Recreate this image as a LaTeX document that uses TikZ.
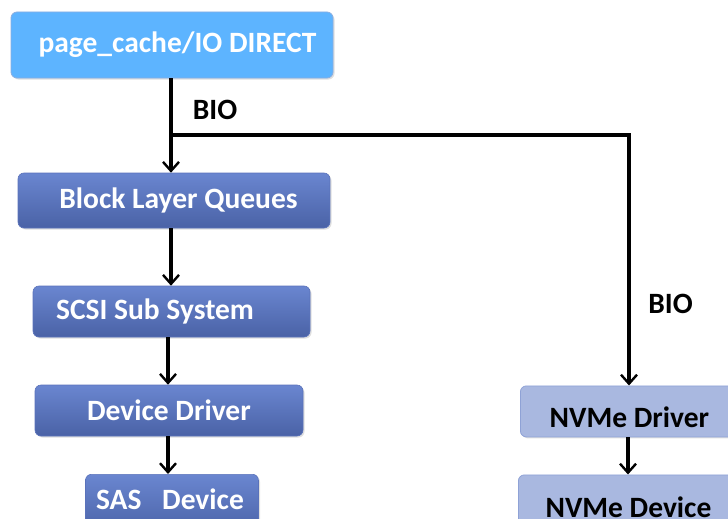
\documentclass[tikz,border=0pt]{standalone}
\usepackage{fontspec}
\setmainfont{Carlito}
\usetikzlibrary{arrows.meta,shadows}
\definecolor{pcblue}{HTML}{5DB4FF}
\definecolor{pcedge}{HTML}{8AAEE0}
\definecolor{dtop}{HTML}{6A86D0}
\definecolor{dbot}{HTML}{4A62A6}
\definecolor{dedge}{HTML}{5A72BA}
\definecolor{nvfill}{HTML}{A9B8E0}
\definecolor{nvedge}{HTML}{8FA2D6}
\tikzset{
  x=1pt,y=-1pt,
  box/.style={rounded corners=6pt,inner sep=0pt,font=\fontsize{29.5}{34}\selectfont\bfseries,
    drop shadow={shadow xshift=1.5pt,shadow yshift=-1.5pt,opacity=0.25}},
  pcbox/.style={box,fill=pcblue,draw=pcedge,line width=0.8pt,text=white},
  darkbox/.style={box,top color=dtop,bottom color=dbot,draw=dedge,line width=0.6pt,text=white},
  nvbox/.style={box,fill=nvfill,draw=nvedge,line width=0.8pt,text=black},
  arr/.style={line width=3.2pt,-{Straight Barb[length=9pt,width=16pt,line width=2.4pt]}},
  wire/.style={line width=3.2pt},
  lbl/.style={font=\fontsize{29.5}{34}\selectfont\bfseries,text=black,inner sep=0pt}
}
\begin{document}
\begin{tikzpicture}
\useasboundingbox (0,0) rectangle (728,519);
\clip (0,0) rectangle (728,519);
% boxes
\node[pcbox,minimum width=322pt,minimum height=66pt] (pc) at (172,45) {\hspace*{11pt}page\_cache/IO DIRECT};
\node[darkbox,minimum width=312pt,minimum height=55pt] (blq) at (174,200.5) {\hspace*{9pt}Block Layer Queues};
\node[darkbox,minimum width=277pt,minimum height=51pt] (scsi) at (171.5,311.5) {SCSI Sub System\hspace*{33pt}};
\node[darkbox,minimum width=268pt,minimum height=51pt] (dd) at (169,410.5) {Device Driver};
\node[darkbox,minimum width=173pt,minimum height=60pt,anchor=north] (sas) at (172,474) {};
\node[lbl,text=white] (sastxt) at (170,499) {SAS\hspace{0.7em}Device};
\node[nvbox,minimum width=230pt,minimum height=51pt,anchor=north west] (nvd) at (520,385.5) {};
\node[lbl] (nvdtxt) at (629.5,417) {NVMe Driver};
\node[nvbox,minimum width=230pt,minimum height=60pt,anchor=north west] (nvdev) at (518,474.5) {};
\node[lbl] (nvdevtxt) at (628.5,507) {NVMe Device};
% connectors
\coordinate (j) at (171,135);
\coordinate (c) at (630,135);
\draw[arr] (pc.south -| j) -- (blq.north -| j);
\draw[wire] (j) -- (c);
\draw[arr] ([xshift=-1.6pt]c) -| (nvd.north -| 629,0);
\draw[arr] (blq.south -| j) -- (scsi.north -| j);
\draw[arr] (scsi.south -| 168,0) -- (dd.north -| 168,0);
\draw[arr] (dd.south -| 168,0) -- (sas.north -| 168,0);
\draw[arr] (nvd.south -| 628,0) -- (nvdev.north -| 628,0);
% labels
\node[lbl] (bio1) at (215,110) {BIO};
\node[lbl] (bio2) at (670.5,304) {BIO};
\end{tikzpicture}
\end{document}
